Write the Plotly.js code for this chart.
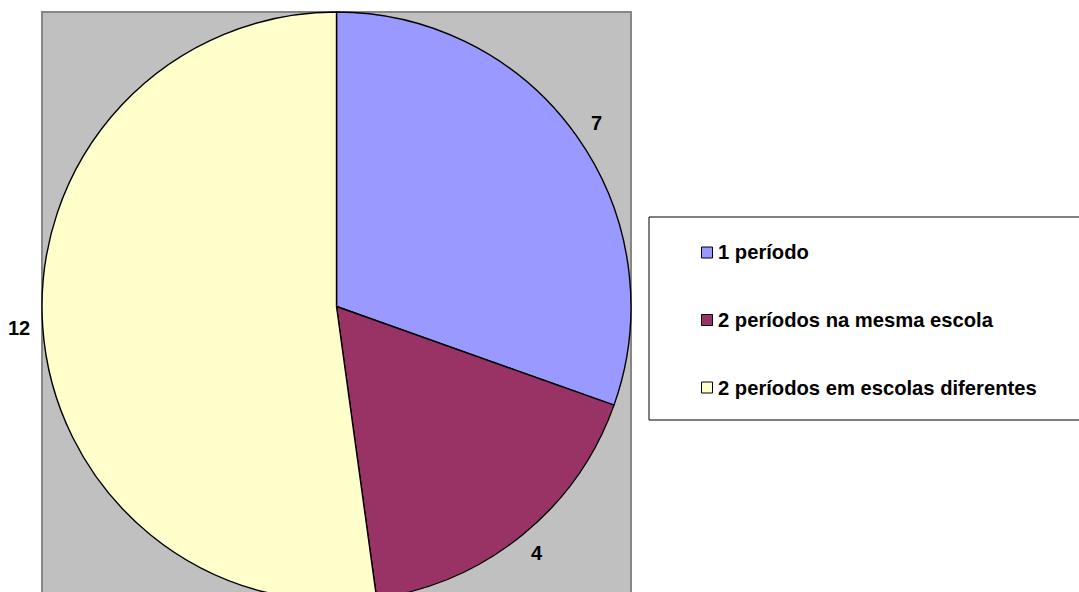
<!DOCTYPE html>
<html>
<head>
<meta charset="utf-8">
<script src="https://cdn.plot.ly/plotly-3.0.1.min.js"></script>
<style>
html, body { margin: 0; padding: 0; overflow: hidden; background: #ffffff; }
#chart { width: 1079px; height: 620px; }
</style>
</head>
<body>
<div id="chart"></div>
<script>
// ---- data ----
var labels = ["1 período", "2 períodos na mesma escola", "2 períodos em escolas diferentes"];
var values = [7, 4, 12];
var colors = ["#9999FF", "#993366", "#FFFFCC"];

// ---- layout helpers (pixels -> paper) ----
var W = 1079, H = 620;
function px(x) { return x / W; }
function py(y) { return 1 - y / H; }

var FONT = "Liberation Sans, Arial, sans-serif";
var CX = 336.5, CY = 306.5, R = 294.5, LABEL_R = 318;

var pie = {
  type: "pie",
  labels: labels,
  values: values,
  sort: false,
  direction: "clockwise",
  rotation: 0,
  marker: { colors: colors, line: { color: "#000000", width: 1.4 } },
  textinfo: "none",
  showlegend: false,
  hoverinfo: "label+value",
  domain: { x: [px(CX - R), px(CX + R)], y: [py(CY + R), py(CY - R)] }
};

var shapes = [
  // plot area background
  { type: "rect", xref: "paper", yref: "paper", layer: "below",
    x0: px(42), x1: px(631), y0: py(640), y1: py(12),
    fillcolor: "#C0C0C0", line: { color: "#868686", width: 2 } },
  // legend box
  { type: "rect", xref: "paper", yref: "paper", layer: "above",
    x0: px(649), x1: px(1090), y0: py(420), y1: py(217),
    fillcolor: "#FFFFFF", line: { color: "#000000", width: 1 } }
];
var annotations = [];

// value labels outside the slices, at each slice's mid-angle
var total = values.reduce(function (a, b) { return a + b; }, 0);
var cum = 0;
for (var k = 0; k < values.length; k++) {
  var mid = (cum + values[k] / 2) / total * 2 * Math.PI;
  cum += values[k];
  annotations.push({ xref: "paper", yref: "paper",
    x: px(CX + LABEL_R * Math.sin(mid)), y: py(CY - LABEL_R * Math.cos(mid)),
    xanchor: "center", yanchor: "middle", showarrow: false, text: String(values[k]),
    font: { family: FONT, size: 20, color: "#000000", weight: "bold" } });
}

// legend
var itemTop = 252.5, itemGap = 67.5;
for (var i = 0; i < labels.length; i++) {
  var cy = itemTop + i * itemGap;
  shapes.push({ type: "rect", xref: "paper", yref: "paper", layer: "above",
    x0: px(701.5), x1: px(712.5), y0: py(cy + 5.5), y1: py(cy - 5.5),
    fillcolor: colors[i], line: { color: "#000000", width: 1 } });
  annotations.push({ xref: "paper", yref: "paper", x: px(716), y: py(cy),
    xanchor: "left", yanchor: "middle", showarrow: false, text: labels[i],
    font: { family: FONT, size: 20.2, color: "#000000", weight: "bold" } });
}

var layout = {
  width: W, height: H,
  margin: { l: 0, r: 0, t: 0, b: 0, pad: 0 },
  paper_bgcolor: "#FFFFFF",
  plot_bgcolor: "#FFFFFF",
  showlegend: false,
  shapes: shapes,
  annotations: annotations
};

Plotly.newPlot("chart", [pie], layout, { displayModeBar: false, staticPlot: true });
</script>
</body>
</html>
